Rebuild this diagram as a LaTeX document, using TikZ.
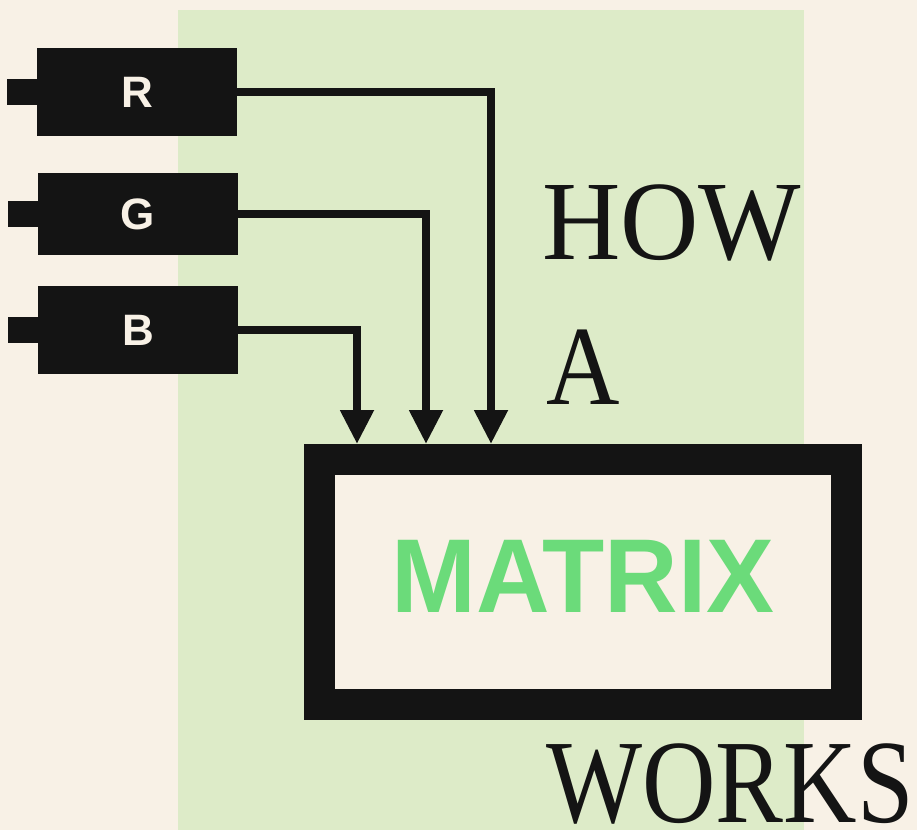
\documentclass[tikz,border=0pt]{standalone}
\usepackage{fontspec}
\setmainfont{Liberation Serif}
\newfontfamily\labelfont{Liberation Sans}
\usetikzlibrary{arrows.meta,positioning}
\definecolor{paper}{HTML}{F8F1E6}
\definecolor{panel}{HTML}{DDEBC8}
\definecolor{ink}{HTML}{141414}
\definecolor{matrixgreen}{HTML}{6BDB7A}
\tikzstyle{camera} = [rectangle, fill=ink, minimum width=200pt, minimum height=88pt, inner sep=0pt, text=paper, font=\labelfont\bfseries\fontsize{44}{44}\selectfont]
\tikzstyle{stub} = [rectangle, fill=ink, minimum width=30pt, minimum height=26pt, inner sep=0pt]
\tikzstyle{frame} = [rectangle, draw=ink, line width=31pt, fill=paper, minimum width=527pt, minimum height=245pt, inner sep=0pt, text depth=12pt, text=matrixgreen, font=\labelfont\bfseries\fontsize{105}{105}\selectfont]
\tikzstyle{title} = [anchor=base west, inner sep=0pt, text=ink, font=\fontsize{113}{113}\selectfont]
\tikzstyle{arrow} = [line width=8pt, draw=ink, -{Triangle[length=34pt,width=32pt]}]

\begin{document}
\begin{tikzpicture}[x=1pt, y=-1pt]
    \useasboundingbox[fill=paper] (0,0) rectangle (917,830);
    \fill[panel] (178,10) rectangle (804,830);

    \node (camR) [camera] at (137,92) {R};
    \node (camG) [camera, minimum height=82pt] at (138,214) {G};
    \node (camB) [camera] at (138,330) {B};
    \node (stubR) [stub, left=0pt of camR] {};
    \node (stubG) [stub, left=0pt of camG] {};
    \node (stubB) [stub, left=0pt of camB] {};

    \node (mtx) [frame] at (583,582) {\scalebox{0.97}[1]{MATRIX}};

    \node (how) [title] at (542,259) {\scalebox{0.96}[1]{HOW}};
    \node (a) [title] at (546,404) {\scalebox{0.9}[1]{A}};
    \node (works) [title, font=\fontsize{119}{119}\selectfont] at (546,822) {\scalebox{0.855}[1]{WORKS}};

    \draw[arrow] (camR.east) -| ([xshift=-92pt]mtx.north);
    \draw[arrow] (camG.east) -| ([xshift=-157pt]mtx.north);
    \draw[arrow] (camB.east) -| ([xshift=-226pt]mtx.north);

\end{tikzpicture}
\end{document}
